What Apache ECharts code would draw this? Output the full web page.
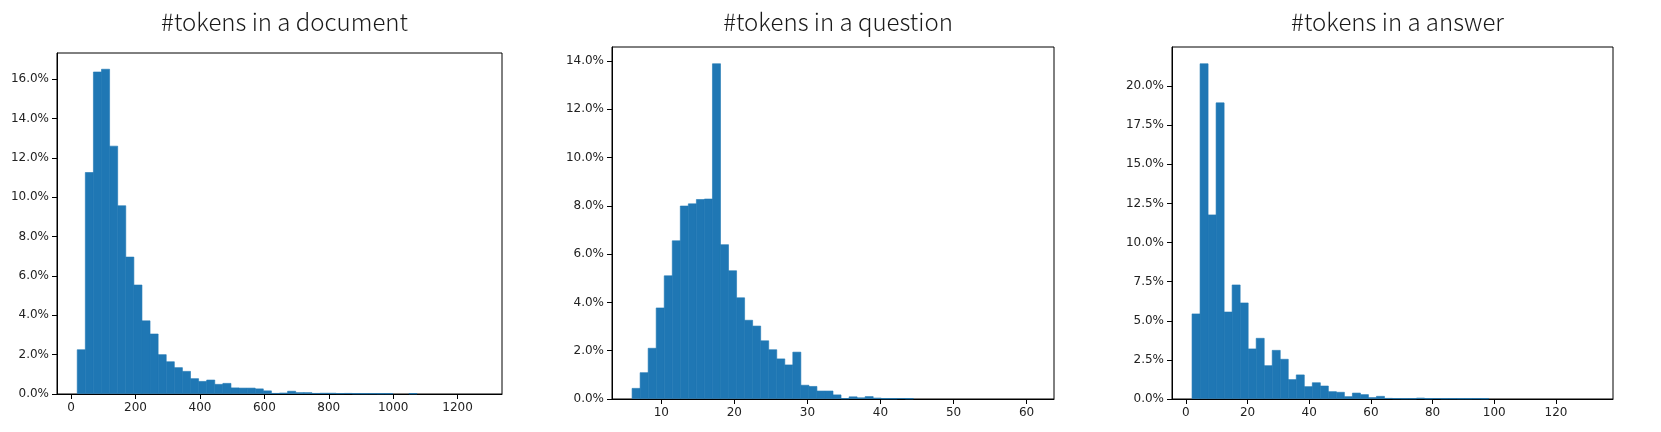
<!DOCTYPE html>
<html lang="en">
<head>
  <meta charset="UTF-8">
  <title>tokens histograms</title>
  <style>
    * { margin: 0; padding: 0; }
    body { background: #fff; }
    #main { width: 1661px; height: 432px; }
  </style>
</head>
<body>
  <div id="main"></div>
  <script src="https://cdn.jsdelivr.net/npm/echarts@6/dist/echarts.min.js"></script>
  <script>
    // percent of samples per bin, 50 bins each
    var docRange = [19, 1275]
    var docPct = [
      2.25, 11.26, 16.37, 16.51, 12.6, 9.57, 6.96, 5.54, 3.72, 3.05,
      2.0, 1.64, 1.34, 1.15, 0.78, 0.64, 0.71, 0.49, 0.54, 0.31,
      0.30, 0.30, 0.26, 0.16, 0.03, 0.05, 0.14, 0.07, 0.07, 0.03,
      0.04, 0.04, 0.02, 0.03, 0.01, 0.01, 0.01, 0.005, 0.005, 0,
      0, 0.005, 0, 0, 0, 0, 0, 0, 0, 0
    ]
    var questionRange = [6, 61]
    var questionPct = [
      0.44, 1.09, 2.10, 3.77, 5.10, 6.55, 7.99, 8.08, 8.26, 8.28,
      13.88, 6.39, 5.31, 4.19, 3.26, 3.02, 2.41, 2.04, 1.66, 1.41,
      1.94, 0.57, 0.52, 0.33, 0.33, 0.17, 0.01, 0.09, 0.05, 0.10,
      0.04, 0.005, 0.005, 0.02, 0.005, 0, 0, 0, 0, 0,
      0, 0, 0, 0, 0, 0, 0, 0, 0, 0
    ]
    var answerRange = [2, 132]
    var answerPct = [
      5.44, 21.43, 11.77, 18.93, 5.56, 7.29, 6.14, 3.20, 3.88, 2.13,
      3.11, 2.54, 1.24, 1.54, 0.79, 1.04, 0.83, 0.47, 0.43, 0.15,
      0.38, 0.28, 0.09, 0.17, 0.04, 0.02, 0.01, 0.01, 0.06, 0.01,
      0.03, 0.01, 0.01, 0.005, 0.005, 0.01, 0.005, 0, 0, 0,
      0, 0, 0, 0, 0, 0, 0, 0, 0, 0
    ]

    var titles = ['#tokens in a document', '#tokens in a question', '#tokens in a answer']
    var docXTicks = [0, 200, 400, 600, 800, 1000, 1200]
    var questionXTicks = [10, 20, 30, 40, 50, 60]
    var answerXTicks = [0, 20, 40, 60, 80, 100, 120]
    var docYTicks = [0, 2, 4, 6, 8, 10, 12, 14, 16]
    var questionYTicks = [0, 2, 4, 6, 8, 10, 12, 14]
    var answerYTicks = [0, 2.5, 5, 7.5, 10, 12.5, 15, 17.5, 20]

    var panels = [
      { range: docRange, pct: docPct, xt: docXTicks, yt: docYTicks, grid: { left: 57, top: 53, width: 445, height: 341 } },
      { range: questionRange, pct: questionPct, xt: questionXTicks, yt: questionYTicks, grid: { left: 612, top: 47, width: 442, height: 352 } },
      { range: answerRange, pct: answerPct, xt: answerXTicks, yt: answerYTicks, grid: { left: 1172, top: 47, width: 441, height: 352 } }
    ]

    var labelStyle = { color: '#222', fontSize: 12, fontFamily: 'DejaVu Sans' }
    var tickStyle = { show: true, inside: false, length: 5, lineStyle: { color: '#000', width: 1 } }

    function renderBin(params, api) {
      var v = api.value(2)
      if (!(v > 0)) return null
      var a = api.coord([api.value(0), v])
      var b = api.coord([api.value(1), 0])
      return {
        type: 'rect',
        z2: 1,
        shape: { x: a[0], y: a[1], width: b[0] - a[0], height: b[1] - a[1] - 0.5 },
        style: { fill: '#1f77b4', stroke: '#1f77b4', lineWidth: 0.6 }
      }
    }

    var option = { animation: false, title: [], grid: [], xAxis: [], yAxis: [], series: [] }

    panels.forEach(function (p, i) {
      var lo = p.range[0], hi = p.range[1]
      var w = (hi - lo) / p.pct.length
      var pad = (hi - lo) * 0.05
      var top = Math.max.apply(null, p.pct) * 1.05
      var bins = p.pct.map(function (v, k) { return [lo + k * w, lo + (k + 1) * w, v] })

      option.title.push({
        text: titles[i],
        left: p.grid.left + p.grid.width / 2,
        top: 5,
        textAlign: 'center',
        textStyle: { fontFamily: 'Noto Sans CJK JP', fontSize: 24, fontWeight: 300, color: '#1a1a1a' }
      })
      option.grid.push({
        left: p.grid.left, top: p.grid.top, width: p.grid.width, height: p.grid.height,
        show: true, borderColor: '#000', borderWidth: 1, backgroundColor: 'transparent'
      })
      option.xAxis.push({
        type: 'value', gridIndex: i, min: lo - pad, max: hi + pad,
        splitLine: { show: false },
        axisLine: { show: true, onZero: false, lineStyle: { color: '#000' } },
        axisTick: Object.assign({ customValues: p.xt }, tickStyle),
        axisLabel: Object.assign({
          customValues: p.xt, margin: 8,
          formatter: function (v) { return String(v) }
        }, labelStyle)
      })
      option.yAxis.push({
        type: 'value', gridIndex: i, min: 0, max: top,
        splitLine: { show: false },
        axisLine: { show: true, onZero: false, lineStyle: { color: '#000' } },
        axisTick: Object.assign({ customValues: p.yt }, tickStyle),
        axisLabel: Object.assign({
          customValues: p.yt, margin: 8,
          formatter: function (v) { return v.toFixed(1) + '%' }
        }, labelStyle)
      })
      option.series.push({
        type: 'custom', xAxisIndex: i, yAxisIndex: i,
        renderItem: renderBin,
        encode: { x: [0, 1], y: 2 },
        data: bins
      })
    })

    var chart = echarts.init(document.getElementById('main'))
    chart.setOption(option)
  </script>
</body>
</html>
